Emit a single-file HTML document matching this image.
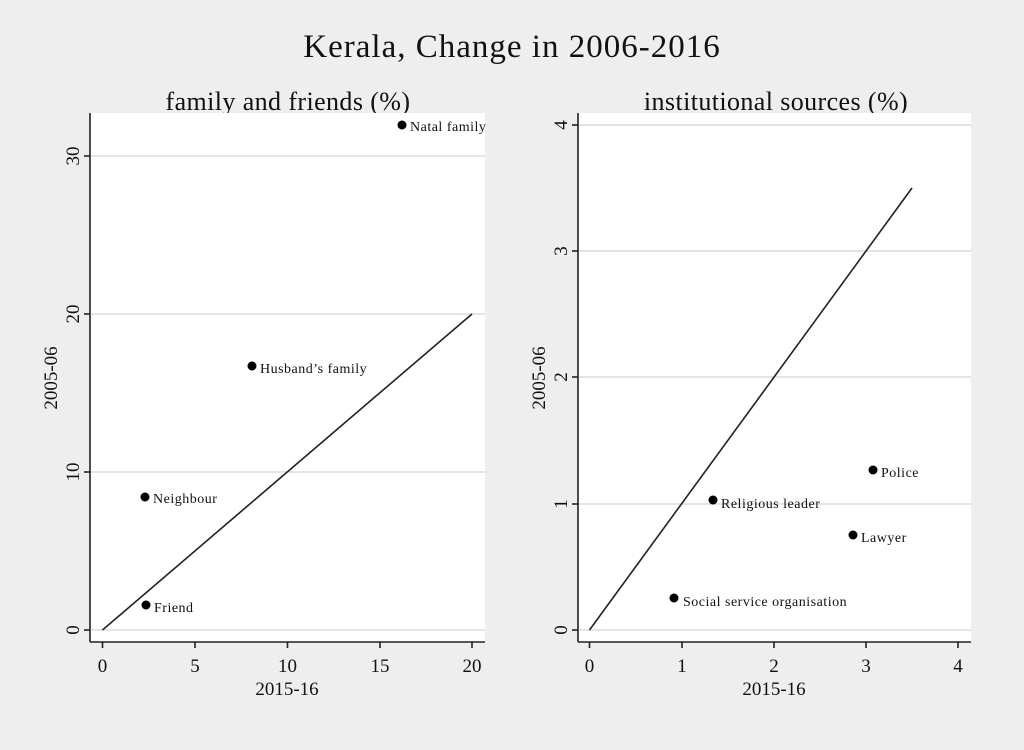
<!DOCTYPE html><html><head><style>body{margin:0;background:#eeeeee}svg{display:block}text{font-family:"Liberation Serif",serif;fill:#111}</style></head><body>
<svg width="1024" height="750" xmlns="http://www.w3.org/2000/svg">
<rect width="1024" height="750" fill="#eeeeee"/>
<text x="512" y="57" font-size="33" letter-spacing="1" text-anchor="middle">Kerala, Change in 2006-2016</text>
<!-- left -->
<text x="288" y="110" font-size="26" letter-spacing="0.4" text-anchor="middle">family and friends (%)</text>
<rect x="90" y="113" width="395" height="529" fill="#fff"/>
<g stroke="#e4e4e4" stroke-width="2"><line x1="90" x2="485" y1="630" y2="630"/><line x1="90" x2="485" y1="472" y2="472"/><line x1="90" x2="485" y1="314" y2="314"/><line x1="90" x2="485" y1="156" y2="156"/></g>
<g stroke="#222" stroke-width="1.6"><line x1="90" y1="113" x2="90" y2="642"/><line x1="90" y1="642" x2="485" y2="642"/>
<line x1="84" x2="90" y1="630" y2="630"/><line x1="84" x2="90" y1="472" y2="472"/><line x1="84" x2="90" y1="314" y2="314"/><line x1="84" x2="90" y1="156" y2="156"/>
<line y1="642" y2="648" x1="102.5" x2="102.5"/><line y1="642" y2="648" x1="195" x2="195"/><line y1="642" y2="648" x1="287.5" x2="287.5"/><line y1="642" y2="648" x1="380" x2="380"/><line y1="642" y2="648" x1="472" x2="472"/>
<line x1="102.5" y1="630" x2="472" y2="314"/></g>
<g font-size="19" text-anchor="middle"><text x="102.5" y="672">0</text><text x="195" y="672">5</text><text x="287.5" y="672">10</text><text x="380" y="672">15</text><text x="472" y="672">20</text></g>
<text x="287" y="695" font-size="19" text-anchor="middle">2015-16</text>
<g font-size="19" text-anchor="middle"><text transform="translate(79,630) rotate(-90)">0</text><text transform="translate(79,472) rotate(-90)">10</text><text transform="translate(79,314) rotate(-90)">20</text><text transform="translate(79,156) rotate(-90)">30</text>
<text transform="translate(57,378) rotate(-90)">2005-06</text></g>
<g fill="#000"><circle cx="402" cy="125" r="4.5"/><circle cx="252" cy="366" r="4.5"/><circle cx="145" cy="497" r="4.5"/><circle cx="146" cy="605" r="4.5"/></g>
<g font-size="14" letter-spacing="0.5"><text x="410" y="131">Natal family</text><text x="260" y="373">Husband’s family</text><text x="153" y="503">Neighbour</text><text x="154" y="612">Friend</text></g>
<!-- right -->
<text x="776" y="110" font-size="26" letter-spacing="0.4" text-anchor="middle">institutional sources (%)</text>
<rect x="578" y="113" width="393" height="529" fill="#fff"/>
<g stroke="#e4e4e4" stroke-width="2"><line x1="578" x2="971" y1="630" y2="630"/><line x1="578" x2="971" y1="504" y2="504"/><line x1="578" x2="971" y1="377" y2="377"/><line x1="578" x2="971" y1="251" y2="251"/><line x1="578" x2="971" y1="125" y2="125"/></g>
<g stroke="#222" stroke-width="1.6"><line x1="578" y1="113" x2="578" y2="642"/><line x1="578" y1="642" x2="971" y2="642"/>
<line x1="572" x2="578" y1="630" y2="630"/><line x1="572" x2="578" y1="504" y2="504"/><line x1="572" x2="578" y1="377" y2="377"/><line x1="572" x2="578" y1="251" y2="251"/><line x1="572" x2="578" y1="125" y2="125"/>
<line y1="642" y2="648" x1="589.5" x2="589.5"/><line y1="642" y2="648" x1="682" x2="682"/><line y1="642" y2="648" x1="774" x2="774"/><line y1="642" y2="648" x1="866" x2="866"/><line y1="642" y2="648" x1="958" x2="958"/>
<line x1="589.5" y1="630" x2="912" y2="188"/></g>
<g font-size="19" text-anchor="middle"><text x="589.5" y="672">0</text><text x="682" y="672">1</text><text x="774" y="672">2</text><text x="866" y="672">3</text><text x="958" y="672">4</text></g>
<text x="774" y="695" font-size="19" text-anchor="middle">2015-16</text>
<g font-size="19" text-anchor="middle"><text transform="translate(567,630) rotate(-90)">0</text><text transform="translate(567,504) rotate(-90)">1</text><text transform="translate(567,377) rotate(-90)">2</text><text transform="translate(567,251) rotate(-90)">3</text><text transform="translate(567,125) rotate(-90)">4</text>
<text transform="translate(545,378) rotate(-90)">2005-06</text></g>
<g fill="#000"><circle cx="873" cy="470" r="4.5"/><circle cx="713" cy="500" r="4.5"/><circle cx="853" cy="535" r="4.5"/><circle cx="674" cy="598" r="4.5"/></g>
<g font-size="14" letter-spacing="0.5"><text x="881" y="477">Police</text><text x="721" y="508">Religious leader</text><text x="861" y="542">Lawyer</text><text x="683" y="606">Social service organisation</text></g>
</svg></body></html>
